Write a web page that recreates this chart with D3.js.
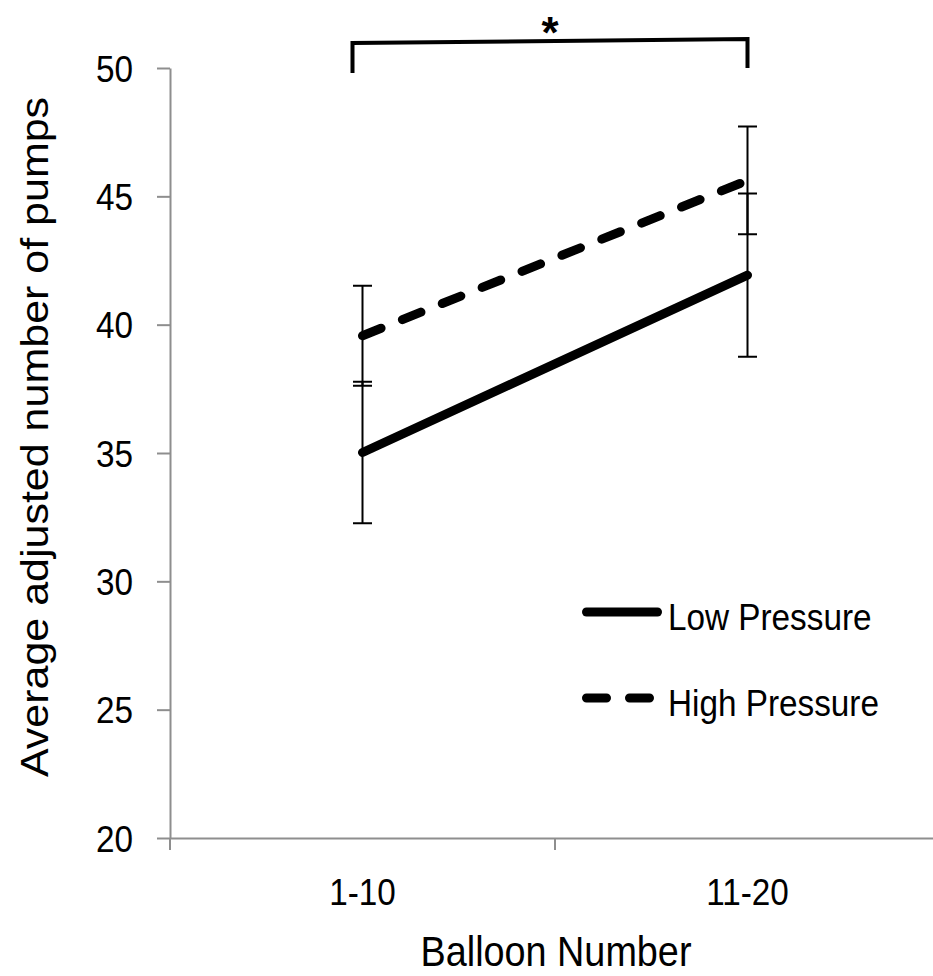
<!DOCTYPE html>
<html>

<head>
	<meta charset="utf-8">
	<title>Balloon pumps</title>
	<style>
		body { margin: 0; background: #fff; }
		text { font-family: "Liberation Sans", Arial, sans-serif; fill: #000; }
	</style>
</head>

<body>
	<svg class="svg" width="933" height="976"></svg>

	<script src="https://d3js.org/d3.v7.min.js"></script>
	<script>
		// data
		var categories = ["1-10", "11-20"];
		var seriesNames = ["Low Pressure", "High Pressure"];
		var lowValues = [35.02, 41.93];
		var lowErrors = [2.76, 3.18];
		var highValues = [39.57, 45.62];
		var highErrors = [1.95, 2.1];
		var yTicks = [20, 25, 30, 35, 40, 45, 50];

		var svg = d3.select("svg");

		// text in the picture is a little narrow, squeeze it sideways
		var squeeze = 0.9;

		var x = d3.scaleBand()
			.domain(categories)
			.range([170, 940])
			.padding(0);

		var y = d3.scaleLinear()
			.domain([20, 50])
			.range([838, 68]);

		function cx(d) {
			return x(d) + x.bandwidth() / 2;
		}

		var series = [
			{ name: seriesNames[0], values: lowValues, errors: lowErrors, dash: null },
			{ name: seriesNames[1], values: highValues, errors: highErrors, dash: "20,23" }
		];

		//y axis
		var yAxis = svg.append("g")
			.attr("class", "y axis")
			.attr("transform", "translate(" + x.range()[0] + ",0)")
			.call(d3.axisLeft(y).tickValues(yTicks).tickSize(13).tickSizeOuter(0).tickFormat(d3.format("d")));

		yAxis.selectAll("path, line")
			.attr("stroke", "#8e8e8e")
			.attr("stroke-width", 2);

		yAxis.selectAll("text")
			.attr("font-size", 37)
			.attr("font-family", null)
			.attr("x", -37 / squeeze)
			.attr("dy", "0.36em")
			.attr("transform", "scale(" + squeeze + ",1)");

		//x axis, labels at band centres
		var xAxis = svg.append("g")
			.attr("class", "x axis")
			.attr("transform", "translate(0," + y(20) + ")")
			.call(d3.axisBottom(x).tickSize(0).tickSizeOuter(0));

		xAxis.select("path")
			.attr("stroke", "#8e8e8e")
			.attr("stroke-width", 2);

		xAxis.selectAll("text")
			.attr("font-size", 37)
			.attr("font-family", null)
			.attr("y", 67)
			.attr("dy", null)
			.attr("transform", "scale(" + squeeze + ",1)");

		//x ticks sit on band edges
		var edges = categories.map(function(d) { return x(d); }).concat([x.range()[1]]);
		xAxis.selectAll(".edge")
			.data(edges)
			.enter().append("line")
			.attr("class", "edge")
			.attr("x1", function(d) { return d; })
			.attr("x2", function(d) { return d; })
			.attr("y1", 0)
			.attr("y2", 12)
			.attr("stroke", "#8e8e8e")
			.attr("stroke-width", 2);

		//error bars
		var capW = 9.5;
		series.forEach(function(s) {
			var eg = svg.append("g").attr("class", "errors");
			categories.forEach(function(c, i) {
				var lo = y(s.values[i] - s.errors[i]);
				var hi = y(s.values[i] + s.errors[i]);
				var px = cx(c);
				eg.append("path")
					.attr("d", "M" + px + "," + lo + "V" + hi +
						"M" + (px - capW) + "," + lo + "H" + (px + capW) +
						"M" + (px - capW) + "," + hi + "H" + (px + capW))
					.attr("fill", "none")
					.attr("stroke", "#000")
					.attr("stroke-width", 2);
			});
		});

		//lines
		var line = d3.line()
			.x(function(d) { return cx(d.cat); })
			.y(function(d) { return y(d.value); });

		series.forEach(function(s) {
			svg.append("path")
				.datum(categories.map(function(c, i) { return { cat: c, value: s.values[i] }; }))
				.attr("d", line)
				.attr("fill", "none")
				.attr("stroke", "#000")
				.attr("stroke-width", 9)
				.attr("stroke-linecap", "round")
				.attr("stroke-dasharray", s.dash);
		});

		//legend
		var legend = svg.append("g")
			.attr("class", "legend")
			.selectAll("g")
			.data(series)
			.enter().append("g")
			.attr("transform", function(d, i) { return "translate(0," + (612 + i * 86) + ")"; });

		legend.append("line")
			.attr("x1", 586.5)
			.attr("x2", function(d) { return d.dash ? 651 : 657.5; })
			.attr("y1", 0)
			.attr("y2", 0)
			.attr("stroke", "#000")
			.attr("stroke-width", 9)
			.attr("stroke-linecap", "round")
			.attr("stroke-dasharray", function(d) { return d.dash; });

		legend.append("text")
			.attr("font-size", 37)
			.attr("transform", "translate(668,18) scale(" + squeeze + ",1)")
			.text(function(d) { return d.name; });

		//axis titles
		svg.append("text")
			.attr("font-size", 42)
			.attr("text-anchor", "middle")
			.attr("transform", "translate(556,966) scale(" + squeeze + ",1)")
			.text("Balloon Number");

		svg.append("text")
			.attr("font-size", 43)
			.attr("text-anchor", "middle")
			.attr("transform", "translate(48,437) scale(" + squeeze + ",1) rotate(-90)")
			.text("Average adjusted number of pumps");

		//significance bracket
		var bx1 = cx(categories[0]) - 10;
		var bx2 = cx(categories[1]);
		svg.append("path")
			.attr("d", "M" + bx1 + ",73V43L" + bx2 + ",39V68")
			.attr("fill", "none")
			.attr("stroke", "#000")
			.attr("stroke-width", 4);

		svg.append("text")
			.attr("x", (bx1 + bx2) / 2)
			.attr("y", 48)
			.attr("text-anchor", "middle")
			.attr("font-size", 44)
			.attr("font-weight", "bold")
			.text("*");
	</script>
</body>

</html>
